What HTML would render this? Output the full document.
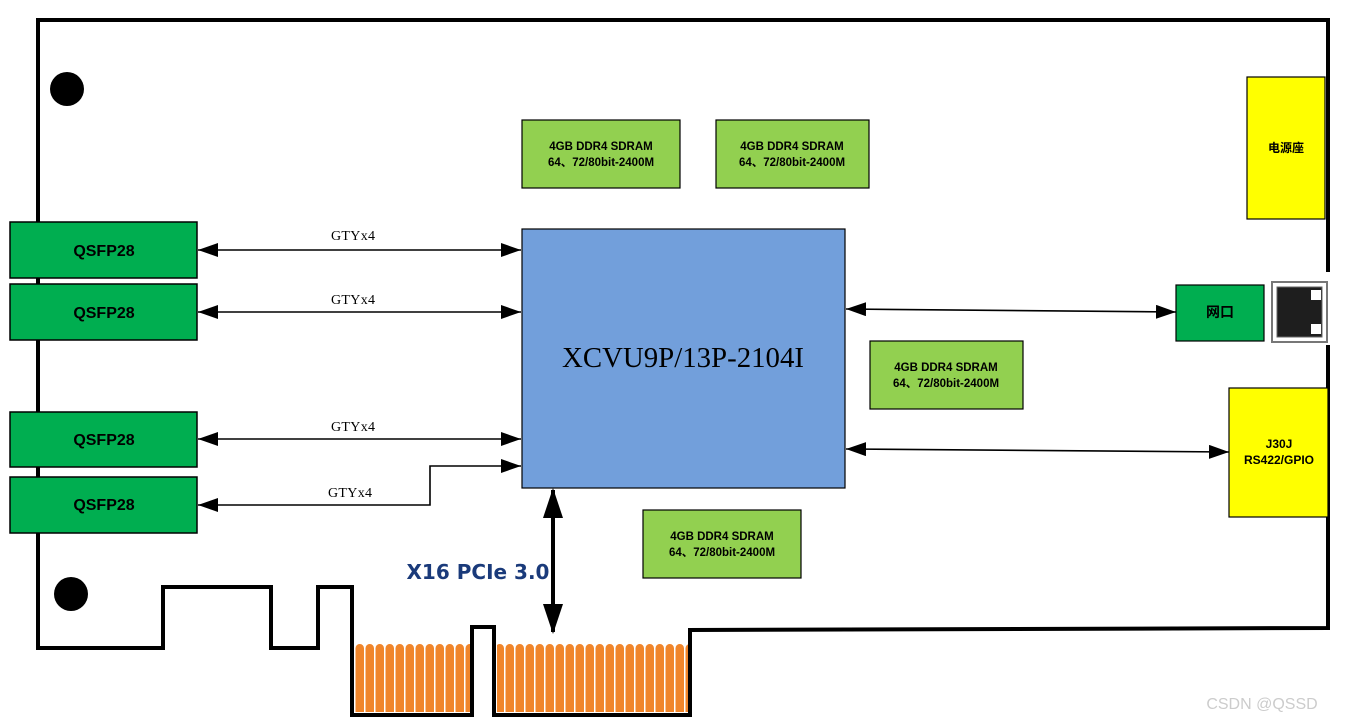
<!DOCTYPE html>
<html><head><meta charset="utf-8"><style>
html,body{margin:0;padding:0;background:#fff;}
svg{display:block}
.b{font-family:"Liberation Sans","Noto Sans CJK SC",sans-serif;font-weight:bold;fill:#000;text-anchor:middle}
.m{font-family:"Liberation Mono",monospace;fill:#000;text-anchor:middle}
</style></head><body>
<svg width="1345" height="725" viewBox="0 0 1345 725" xmlns="http://www.w3.org/2000/svg">
<defs>
<pattern id="fp" x="355" y="0" width="10" height="725" patternUnits="userSpaceOnUse">
<rect x="0.5" y="644" width="8.5" height="80" rx="4.2" fill="#f0852a"/>
</pattern>
<marker id="a" viewBox="0 0 20 14" refX="20" refY="7" markerWidth="20" markerHeight="14" markerUnits="userSpaceOnUse" orient="auto-start-reverse">
<path d="M0,0 L20,7 L0,14 Z" fill="#000"/>
</marker>
<marker id="A" viewBox="0 0 30 20" refX="28" refY="10" markerWidth="30" markerHeight="20" markerUnits="userSpaceOnUse" orient="auto-start-reverse">
<path d="M0,0 L30,10 L0,20 Z" fill="#000"/>
</marker>
</defs>
<!-- fingers -->
<rect x="355" y="640" width="116" height="72" fill="url(#fp)"/>
<rect x="497" y="640" width="191" height="72" fill="url(#fp)"/>
<!-- board outline -->
<path d="M1328,272 L1328,20 L38,20 L38,648 L163,648 L163,587 L271,587 L271,648 L318,648 L318,587 L352,587 L352,715 L472,715 L472,627 L494,627 L494,715 L690,715 L690,630 L1328,628 L1328,345" fill="none" stroke="#000" stroke-width="4" stroke-linejoin="miter"/>
<circle cx="67" cy="89" r="17" fill="#000"/>
<circle cx="71" cy="594" r="17" fill="#000"/>
<!-- QSFP -->
<g stroke="#000" stroke-width="1.5" fill="#00ae50">
<rect x="10" y="222" width="187" height="56"/>
<rect x="10" y="284" width="187" height="56"/>
<rect x="10" y="412" width="187" height="55"/>
<rect x="10" y="477" width="187" height="56"/>
</g>
<g class="b" font-size="16">
<text x="104" y="256">QSFP28</text>
<text x="104" y="318">QSFP28</text>
<text x="104" y="445">QSFP28</text>
<text x="104" y="510">QSFP28</text>
</g>
<!-- FPGA -->
<rect x="522" y="229" width="323" height="259" fill="#729fdb" stroke="#000" stroke-width="1.2"/>
<text class="m" x="683" y="367" font-size="29" style="font-family:'Liberation Serif',serif" textLength="242" lengthAdjust="spacingAndGlyphs">XCVU9P/13P-2104I</text>
<!-- arrows -->
<g stroke="#000" stroke-width="1.6" fill="none">
<line x1="198" y1="250" x2="521" y2="250" marker-start="url(#a)" marker-end="url(#a)"/>
<line x1="198" y1="312" x2="521" y2="312" marker-start="url(#a)" marker-end="url(#a)"/>
<line x1="198" y1="439" x2="521" y2="439" marker-start="url(#a)" marker-end="url(#a)"/>
<polyline points="198,505 430,505 430,466 521,466" marker-start="url(#a)" marker-end="url(#a)"/>
<line x1="846" y1="309" x2="1176" y2="312" marker-start="url(#a)" marker-end="url(#a)"/>
<line x1="846" y1="449" x2="1229" y2="452" marker-start="url(#a)" marker-end="url(#a)"/>
<line x1="553" y1="490" x2="553" y2="632" stroke-width="4" marker-start="url(#A)" marker-end="url(#A)"/>
</g>
<g class="m" font-size="14" style="font-family:'Liberation Serif',serif">
<text x="353" y="240" textLength="44">GTYx4</text>
<text x="353" y="304" textLength="44">GTYx4</text>
<text x="353" y="431" textLength="44">GTYx4</text>
<text x="350" y="497" textLength="44">GTYx4</text>
</g>
<text x="478" y="579" font-family="'DejaVu Sans','Liberation Sans',sans-serif" font-weight="bold" font-size="20" fill="#1a3a7a" text-anchor="middle">X16 PCIe 3.0</text>
<!-- DDR -->
<g stroke="#000" stroke-width="1.2" fill="#92d050">
<rect x="522" y="120" width="158" height="68"/>
<rect x="716" y="120" width="153" height="68"/>
<rect x="870" y="341" width="153" height="68"/>
<rect x="643" y="510" width="158" height="68"/>
</g>
<g class="b" font-size="11.5">
<text x="601" y="150">4GB DDR4 SDRAM</text><text x="601" y="166">64、72/80bit-2400M</text>
<text x="792" y="150">4GB DDR4 SDRAM</text><text x="792" y="166">64、72/80bit-2400M</text>
<text x="946" y="371">4GB DDR4 SDRAM</text><text x="946" y="387">64、72/80bit-2400M</text>
<text x="722" y="540">4GB DDR4 SDRAM</text><text x="722" y="556">64、72/80bit-2400M</text>
</g>
<!-- right side -->
<rect x="1247" y="77" width="78" height="142" fill="#ffff00" stroke="#000" stroke-width="1.2"/>
<text class="b" x="1286" y="152" font-size="12">电源座</text>
<rect x="1176" y="285" width="88" height="56" fill="#00ae50" stroke="#000" stroke-width="1.2"/>
<text class="b" x="1220" y="317" font-size="14">网口</text>
<rect x="1272" y="282" width="55" height="60" fill="#fff" stroke="#777" stroke-width="2"/>
<rect x="1277" y="287" width="45" height="50" fill="#1e1e1e" stroke="#666" stroke-width="1"/>
<rect x="1311" y="290" width="10" height="10" fill="#fff"/>
<rect x="1311" y="324" width="10" height="10" fill="#fff"/>
<rect x="1229" y="388" width="99" height="129" fill="#ffff00" stroke="#000" stroke-width="1.2"/>
<text class="b" x="1279" y="448" font-size="12">J30J</text>
<text class="b" x="1279" y="464" font-size="12">RS422/GPIO</text>
<text x="1262" y="709" font-family="'Liberation Sans',sans-serif" font-size="16" fill="#ccc" text-anchor="middle">CSDN @QSSD</text>
</svg>
</body></html>
